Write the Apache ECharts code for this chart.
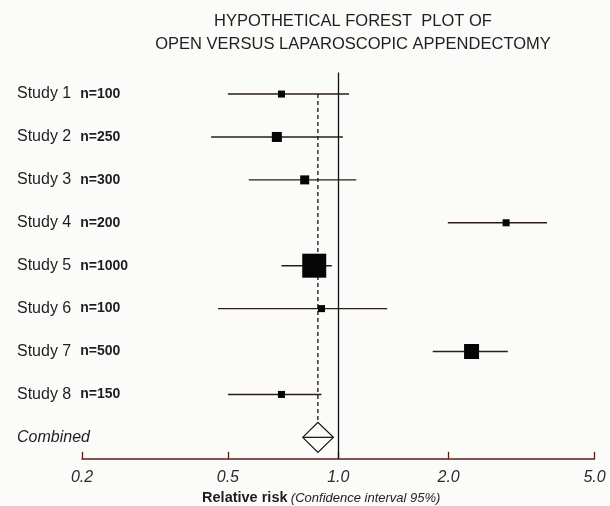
<!DOCTYPE html>
<html>
<head>
<meta charset="utf-8">
<script src="https://cdn.jsdelivr.net/npm/echarts@6/dist/echarts.min.js"></script>
<style>
html,body{margin:0;padding:0;background:#fbfbf9;}
#chart{width:610px;height:506px;}
</style>
</head>
<body>
<div id="chart"></div>
<script>
const studies = ['Study 1','Study 2','Study 3','Study 4','Study 5','Study 6','Study 7','Study 8'];
const sampleSizes = [100, 250, 300, 200, 1000, 100, 500, 150];
const estimates = [0.70, 0.68, 0.81, 2.87, 0.86, 0.90, 2.31, 0.70];
const lowerCI   = [0.50, 0.45, 0.57, 1.99, 0.70, 0.47, 1.81, 0.50];
const upperCI   = [1.07, 1.03, 1.12, 3.71, 0.96, 1.36, 2.90, 0.90];
const weights   = [4.2, 8.5, 6.9, 4.2, 48.9, 4.2, 19.1, 4.2];
const combinedLabel = 'Combined';
const combinedEstimate = 0.88;
const combinedCI = [0.80, 0.97];
const tickValues = [0.2, 0.5, 1.0, 2.0, 5.0];
const tickLabels = ['0.2', '0.5', '1.0', '2.0', '5.0'];
const noEffect = 1.0;

const categories = studies.concat([combinedLabel]);
const lineColor = '#2b1c18';
const axisColor = '#5a1e14';
const font = 'Liberation Sans';

const studyData = studies.map((s, i) => [i, lowerCI[i], estimates[i], upperCI[i], weights[i]]);

const chart = echarts.init(document.getElementById('chart'), null, {renderer: 'canvas'});
chart.setOption({
  backgroundColor: '#fbfbf9',
  animation: false,
  title: {
    text: 'HYPOTHETICAL FOREST  PLOT OF\nOPEN VERSUS LAPAROSCOPIC APPENDECTOMY',
    left: 353, top: 10, textAlign: 'center', padding: 0,
    textStyle: {fontFamily: font, fontSize: 16.5, fontWeight: 'normal', color: '#1e1e1e', lineHeight: 23}
  },
  grid: {left: 82, right: 15.5, top: 72.6, bottom: 506 - 458.8, containLabel: false, outerBoundsMode: 'none'},
  xAxis: {
    type: 'log', logBase: 10, min: 0.2, max: 5,
    axisLine: {show: true, lineStyle: {color: axisColor, width: 1.5}},
    axisTick: {show: true, inside: true, length: 7, customValues: tickValues, lineStyle: {color: axisColor, width: 1.3}},
    minorTick: {show: false},
    splitLine: {show: false},
    axisLabel: {
      customValues: tickValues, margin: 11,
      fontFamily: font, fontSize: 16, fontStyle: 'italic', color: '#2a2a2a',
      formatter: v => { const i = tickValues.findIndex(t => Math.abs(t - v) < 1e-6); return i >= 0 ? tickLabels[i] : ''; }
    },
    name: '{b|Relative risk} {i|(Confidence interval 95%)}',
    nameLocation: 'middle', nameGap: 32,
    nameTextStyle: {
      padding: [0, 34, 0, 0],
      rich: {
        b: {fontFamily: font, fontSize: 14.5, fontWeight: 'bold', color: '#1e1e1e'},
        i: {fontFamily: font, fontSize: 13, fontStyle: 'italic', color: '#1e1e1e'}
      }
    }
  },
  yAxis: {
    type: 'category', data: categories, inverse: true,
    axisLine: {show: false}, axisTick: {show: false}, splitLine: {show: false},
    axisLabel: {
      align: 'left', margin: 65,
      formatter: (v, idx) => {
        if (idx < studies.length) return '{s|' + v + '}{n|n=' + sampleSizes[idx] + '}';
        return '{c|' + v + '}';
      },
      rich: {
        s: {fontFamily: font, fontSize: 16, color: '#1e1e1e'},
        n: {fontFamily: font, fontSize: 14, fontWeight: 'bold', color: '#1e1e1e', padding: [0, 0, 0, 9]},
        c: {fontFamily: font, fontSize: 16, fontStyle: 'italic', color: '#1e1e1e'}
      }
    }
  },
  series: [
    {
      type: 'line', silent: true, z: 1, symbol: 'none',
      data: [[combinedEstimate, studies[0]], [combinedEstimate, combinedLabel]],
      lineStyle: {color: '#111', width: 1.3, type: [4, 3]},
      markLine: {
        silent: true, symbol: 'none', label: {show: false},
        lineStyle: {color: '#111', width: 1.3, type: 'solid'},
        data: [{xAxis: noEffect}]
      }
    },
    {
      type: 'custom', z: 3, silent: true,
      data: studyData,
      encode: {x: [1, 2, 3], y: 0},
      renderItem: (params, api) => {
        const row = api.value(0);
        const lo = api.coord([api.value(1), row]);
        const est = api.coord([api.value(2), row]);
        const hi = api.coord([api.value(3), row]);
        const size = 3.43 * Math.sqrt(api.value(4));
        return {
          type: 'group',
          children: [
            {type: 'line', shape: {x1: lo[0], y1: lo[1], x2: hi[0], y2: hi[1]}, style: {stroke: lineColor, lineWidth: 1.4}},
            {type: 'rect', shape: {x: est[0] - size / 2, y: est[1] - size / 2, width: size, height: size}, style: {fill: '#050505'}}
          ]
        };
      }
    },
    {
      type: 'custom', z: 4, silent: true,
      data: [[categories.length - 1, combinedCI[0], combinedEstimate, combinedCI[1]]],
      encode: {x: [1, 2, 3], y: 0},
      renderItem: (params, api) => {
        const row = api.value(0);
        const lo = api.coord([api.value(1), row]);
        const est = api.coord([api.value(2), row]);
        const hi = api.coord([api.value(3), row]);
        const h = 15;
        return {
          type: 'group',
          children: [
            {type: 'polygon', shape: {points: [[lo[0], lo[1]], [est[0], est[1] - h], [hi[0], hi[1]], [est[0], est[1] + h]]},
             style: {fill: '#fbfbf9', stroke: '#111', lineWidth: 1.2}},
            {type: 'line', shape: {x1: lo[0], y1: lo[1], x2: hi[0], y2: hi[1]}, style: {stroke: lineColor, lineWidth: 1.3}}
          ]
        };
      }
    }
  ]
});
</script>
</body>
</html>
